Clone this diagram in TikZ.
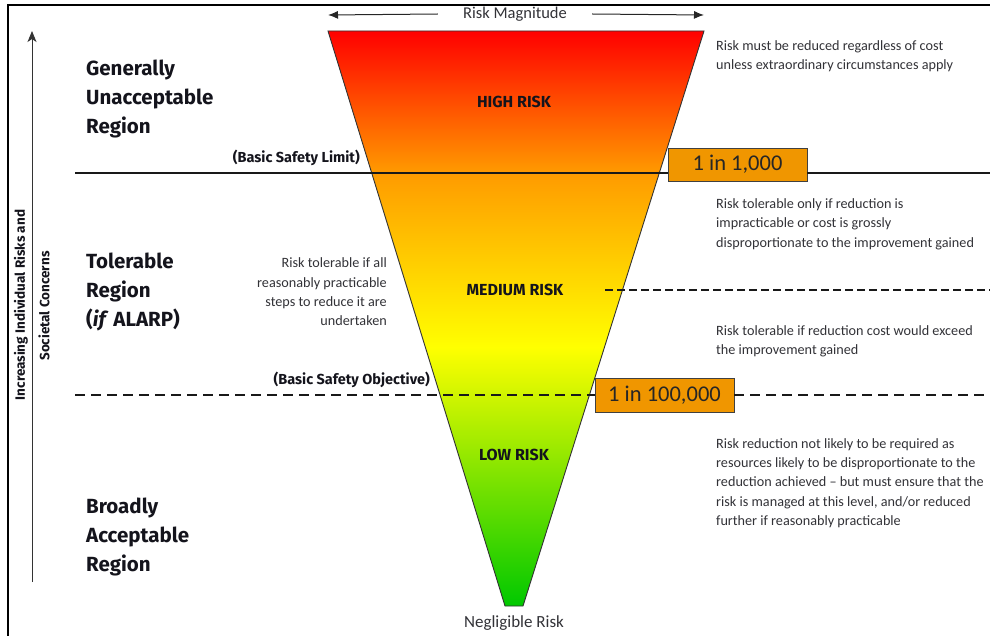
\documentclass[tikz,border=0pt]{standalone}
\usepackage{fontspec}
\setmainfont{Carlito}
\newfontfamily\headfont{Fira Sans}
\usetikzlibrary{arrows.meta}
\definecolor{boxorange}{RGB}{240,150,0}
\definecolor{txtgray}{RGB}{50,50,55}
\definecolor{headblack}{RGB}{20,20,28}
\definecolor{rred}{RGB}{255,0,0}
\definecolor{rorange}{RGB}{255,155,0}
\definecolor{rlorange}{RGB}{255,205,0}
\definecolor{ryellow}{RGB}{255,255,0}
\definecolor{rgreen}{RGB}{0,200,0}
\pgfdeclareverticalshading{riskshade}{100bp}{color(0bp)=(rgreen); color(25bp)=(rgreen); color(47.5bp)=(ryellow); color(55bp)=(rlorange); color(62.6bp)=(rorange); color(75bp)=(rred); color(100bp)=(rred)}
\tikzset{
  headlbl/.style={anchor=west, align=left, inner sep=0pt, text=headblack,
    font=\headfont\bfseries\fontsize{20.5}{29}\selectfont},
  sublbl/.style={anchor=east, inner sep=0pt, text=headblack,
    font=\headfont\bfseries\fontsize{14.5}{17}\selectfont},
  risklbl/.style={inner sep=0pt, text=headblack,
    font=\headfont\bfseries\fontsize{16}{19}\selectfont},
  note/.style={inner sep=0pt, text=txtgray, font=\fontsize{14.2}{19.3}\selectfont},
  sidelbl/.style={inner sep=0pt, text=headblack, rotate=90,
    font=\headfont\bfseries\fontsize{13.5}{16}\selectfont},
  ratebox/.style={draw=black!75, line width=0.9pt, fill=boxorange, inner sep=0pt,
    minimum width=139pt, font=\fontsize{22.5}{26}\selectfont, text=black!85},
  magarrow/.style={-{Latex[length=10pt,width=8pt]}, line width=1pt, black!85},
  solidline/.style={line width=1.6pt, black!90},
  bigdash/.style={line width=2pt, black!90, dash pattern=on 10pt off 6pt},
  meddash/.style={line width=1.8pt, black!90, dash pattern=on 8pt off 4pt},
  frameline/.style={line width=2pt, black}
}
\begin{document}
\begin{tikzpicture}[x=1pt,y=-1pt]
\useasboundingbox (0,0) rectangle (990,636);
% frame
\coordinate (fTL) at (8,5);
\coordinate (fTR) at (990,5);
\coordinate (fBL) at (8,636);
\draw[frameline] (fBL) -- (fTL) -- (fTR);
% funnel
\coordinate (tA) at (328,31);
\coordinate (tB) at (704,31);
\coordinate (tC) at (523,606);
\coordinate (tD) at (505,606);
\path[shading=riskshade] (tA) -- (tB) -- (tC) -- (tD) -- cycle;
\draw[line width=0.9pt, black!80] (tA) -- (tB) -- (tC) -- (tD) -- cycle;
% risk magnitude
\node[inner xsep=25pt, inner ysep=0pt, text=txtgray, font=\fontsize{16.5}{19}\selectfont] (rm) at (515,14) {Risk Magnitude};
\coordinate (magL) at (328,15);
\coordinate (magR) at (704,15);
\draw[magarrow] (rm.west) -- (magL);
\draw[magarrow] (rm.east) -- (magR);
% vertical axis
\coordinate (vbot) at (32,582);
\coordinate (vtop) at (32,31);
\draw[-{Stealth[length=11pt,width=9pt,inset=3pt]}, line width=1pt, black!80] (vbot) -- (vtop);
\node[sidelbl] (side1) at (21,305) {Increasing Individual Risks and};
\node[sidelbl] (side2) at (44,306) {Societal Concerns};
% rate boxes
\node[ratebox, minimum height=33pt] (r1) at (737.5,164.5) {1 in 1,000};
\node[ratebox, minimum height=34pt] (r2) at (664.5,395) {1 in 100,000};
% lines
\coordinate (bslL) at (75,173);
\coordinate (bslR) at (990,173);
\draw[solidline] (bslL) -- (bslL -| r1.west);
\draw[solidline] (bslR -| r1.east) -- (bslR);
\coordinate (bsoL) at (75,395);
\coordinate (bsoR) at (990,395);
\draw[bigdash] (bsoL) -- (r2.west);
\draw[bigdash] (r2.east) -- (bsoR);
\coordinate (mdL) at (605,290);
\coordinate (mdR) at (990,290);
\draw[meddash] (mdL) -- (mdR);
% region labels
\node[headlbl] (gur) at (86,99) {Generally\\Unacceptable\\Region};
\node[headlbl] (tr) at (86,292) {Tolerable\\Region\\(\textit{if} ALARP)};
\node[headlbl] (bar) at (86,537) {Broadly\\Acceptable\\Region};
\node[sublbl] (bsl) at (360,158) {(Basic Safety Limit)};
\node[sublbl] (bso) at (430,380) {(Basic Safety Objective)};
% risk labels
\node[risklbl] (hr) at (514,102) {HIGH RISK};
\node[risklbl] (mr) at (515,290) {MEDIUM RISK};
\node[risklbl] (lr) at (514,455) {LOW RISK};
\node[inner sep=0pt, text=txtgray, font=\fontsize{17}{19}\selectfont] (neg) at (514,623) {Negligible Risk};
% notes
\node[note, anchor=east, align=right] (nalarp) at (387,292) {Risk tolerable if all\\reasonably practicable\\steps to reduce it are\\undertaken};
\node[note, anchor=west, align=left] (n1) at (716,56.5) {Risk must be reduced regardless of cost\\unless extraordinary circumstances apply};
\node[note, anchor=west, align=left] (n2) at (716,224) {Risk tolerable only if reduction is\\impracticable or cost is grossly\\disproportionate to the improvement gained};
\node[note, anchor=west, align=left] (n3) at (716,341) {Risk tolerable if reduction cost would exceed\\the improvement gained};
\node[note, anchor=west, align=left] (n4) at (716,483) {Risk reduction not likely to be required as\\resources likely to be disproportionate to the\\reduction achieved -- but must ensure that the\\risk is managed at this level, and/or reduced\\further if reasonably practicable};
\end{tikzpicture}
\end{document}
